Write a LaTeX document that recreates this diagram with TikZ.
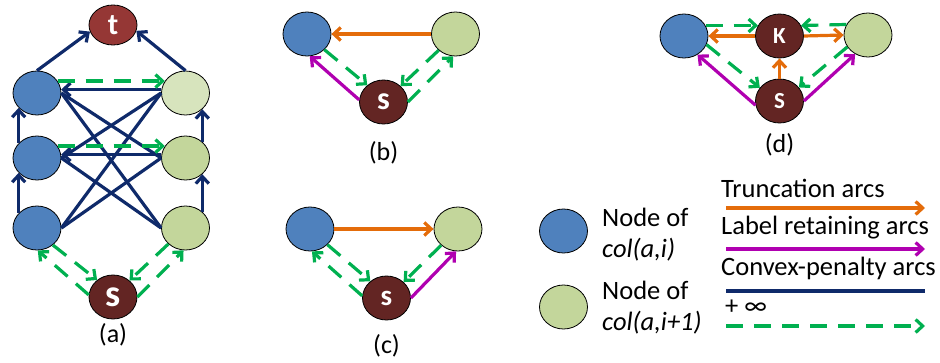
\documentclass[tikz,border=0pt]{standalone}
\usepackage{fontspec}
\setmainfont{Carlito}
\usetikzlibrary{shapes.geometric,arrows.meta}
\definecolor{nblue}{HTML}{4F81BD}
\definecolor{ngreen}{HTML}{C3D69B}
\definecolor{nlgreen}{HTML}{D7E4BD}
\definecolor{tred}{HTML}{953735}
\definecolor{sred}{HTML}{632523}
\definecolor{navy}{HTML}{0F2A6A}
\definecolor{dgreen}{HTML}{00B050}
\definecolor{orng}{HTML}{E46C0A}
\definecolor{mgnt}{HTML}{B000B0}
\begin{document}
\begin{tikzpicture}[x=1pt,y=-1pt,
  nd/.style={ellipse,draw=black,line width=0.8pt,minimum width=48pt,minimum height=44pt,inner sep=0pt},
  bnode/.style={nd,fill=nblue},
  gnode/.style={nd,fill=ngreen},
  lgnode/.style={nd,fill=nlgreen},
  dk/.style={nd,fill=sred,text=white},
  tip/.style={-{Straight Barb[length=7pt,width=13pt]}},
  cp/.style={draw=navy,line width=3.2pt},
  cparr/.style={cp,tip},
  inf/.style={draw=dgreen,line width=3.2pt,dash pattern=on 17pt off 11pt,tip},
  trunc/.style={draw=orng,line width=3.2pt,tip},
  ret/.style={draw=mgnt,line width=3.2pt,tip},
  lbl/.style={font=\fontsize{26}{30}\selectfont},
  leg/.style={font=\fontsize{26.5}{30}\selectfont,anchor=west,inner sep=0pt}
]
\useasboundingbox (0,0) rectangle (940,362);
% ---------- (a) ----------
\node[bnode] (L1) at (37,93) {};
\node[bnode] (L2) at (37,158) {};
\node[bnode] (L3) at (37,228) {};
\node[lgnode] (R1) at (185.5,93) {};
\node[gnode] (R2) at (185.5,158) {};
\node[gnode] (R3) at (185.5,228) {};
\node[dk,fill=tred,minimum height=40pt,font=\fontsize{30}{30}\selectfont\bfseries] (t) at (113,25) {t};
\node[dk,font=\fontsize{38}{38}\selectfont\bfseries] (s) at (113,297) {s};
\node[lbl] (la) at (113,335) {(a)};
\draw[cparr] (L1.north) -- (t.196);
\draw[cparr] (R1.north) -- (t.-14);
\draw[cparr] (L3.141) -- (L2.219);
\draw[cparr] (L2.141) -- (L1.219);
\draw[cparr] (R3.44) -- (R2.-44);
\draw[cparr] (R2.44) -- (R1.-44);
\draw[cp] (L1.east) -- (R2.west);
\draw[cp] (L1.east) -- (R3.west);
\draw[cp] (L2.east) -- (R3.west);
\draw[cp] (R1.west) -- (L2.east);
\draw[cp] (R1.west) -- (L3.east);
\draw[cp] (R2.west) -- (L3.east);
\draw[cparr] (R1.172) -- (L1.8);
\draw[cparr] (R2.172) -- (L2.8);
\draw[inf] (L1.30) -- (R1.150);
\draw[inf] (L2.30) -- (R2.150);
\draw[inf] (L3.-47) -- (s.133);
\draw[inf] (s.175) -- (L3.-88);
\draw[inf] (R3.-137) -- (s.45);
\draw[inf] (s.0) -- (R3.-95);
% ---------- (b) ----------
\node[bnode] (Bb) at (307,34) {};
\node[gnode] (Gb) at (455.5,34) {};
\node[dk,font=\fontsize{32}{32}\selectfont\bfseries] (sb) at (383.5,102) {s};
\node[lbl] (lb) at (383.5,153) {(b)};
\draw[trunc] (Gb.west) -- (Bb.east);
\draw[inf] (Bb.-42) -- (sb.134);
\draw[ret] (sb.175) -- (Bb.-83);
\draw[inf] (Gb.-136) -- (sb.43);
\draw[inf] (sb.0) -- (Gb.-96);
% ---------- (c) ----------
\node[bnode] (Bc) at (310,229) {};
\node[gnode] (Gc) at (458,229) {};
\node[dk,font=\fontsize{29}{29}\selectfont\bfseries] (sc) at (386.5,298) {s};
\node[lbl] (lc) at (386.5,346) {(c)};
\draw[trunc] (Bc.east) -- (Gc.west);
\draw[inf] (Bc.-42) -- (sc.134);
\draw[inf] (sc.175) -- (Bc.-85);
\draw[inf] (Gc.-136) -- (sc.43);
\draw[ret] (sc.0) -- (Gc.-95);
% ---------- (d) ----------
\node[bnode] (Bd) at (684,36) {};
\node[dk,font=\fontsize{23}{23}\selectfont\bfseries] (K) at (779.5,36) {K};
\node[gnode] (Gd) at (868,35) {};
\node[dk,font=\fontsize{23}{23}\selectfont\bfseries] (S) at (779.5,101) {S};
\node[lbl] (ld) at (779.5,145) {(d)};
\draw[inf] (Bd.26) -- (K.154);
\draw[trunc] (K.west) -- (Bd.east);
\draw[trunc] (K.east) -- (Gd.west);
\draw[inf] (Gd.154) -- (K.26);
\draw[trunc] (S.north) -- (K.south);
\draw[inf] (Bd.-21) -- (S.146);
\draw[ret] (S.190) -- (Bd.-54);
\draw[inf] (Gd.-150) -- (S.35);
\draw[ret] (S.0) -- (Gd.-124);
% ---------- legend ----------
\node[bnode] (lgb) at (563.5,231) {};
\node[gnode] (lgg) at (563.5,307) {};
\node[leg] (tb1) at (602,217) {Node of};
\node[leg] (tb2) at (602,250) {\itshape col(a,i)};
\node[leg] (tg1) at (602,290) {Node of};
\node[leg] (tg2) at (602,323) {\itshape col(a,i+1)};
\node[leg] (tt) at (721,188) {Truncation arcs};
\node[leg] (tr) at (721,228) {Label retaining arcs};
\node[leg] (tc) at (721,268) {Convex-penalty arcs};
\node[leg] (ti) at (725,307) {+ ∞};
\coordinate (a1) at (726,208); \coordinate (a2) at (925,208);
\coordinate (b1) at (726,249); \coordinate (b2) at (925,249);
\coordinate (c1) at (726,291); \coordinate (c2) at (925,291);
\coordinate (d1) at (726,326); \coordinate (d2) at (925,326);
\draw[trunc] (a1) -- (a2);
\draw[ret] (b1) -- (b2);
\draw[cp] (c1) -- (c2);
\draw[inf] (d1) -- (d2);
\end{tikzpicture}
\end{document}
